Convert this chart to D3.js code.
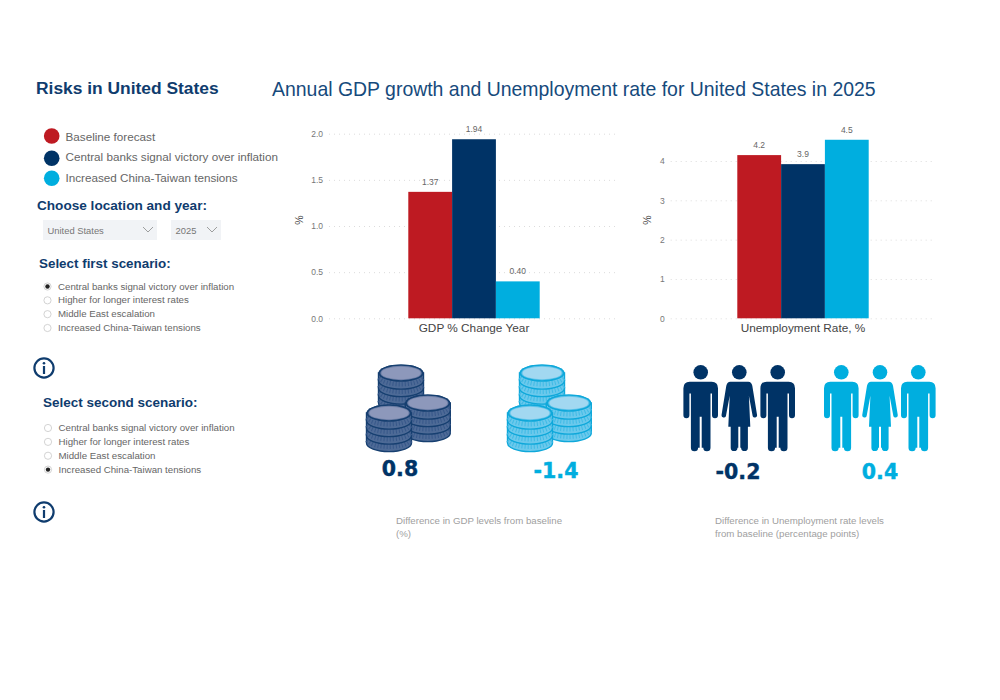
<!DOCTYPE html>
<html>
<head>
<meta charset="utf-8">
<script src="https://d3js.org/d3.v7.min.js"></script>
<style>
  html, body { margin: 0; padding: 0; background: #fff; }
  svg { display: block; font-family: "Liberation Sans", Arial, sans-serif; }
</style>
</head>
<body>
<div id="viz"></div>
<script>
// chart data
const scenarios = ["Baseline forecast", "Central banks signal victory over inflation", "Increased China-Taiwan tensions"];
const scenarioColors = ["#be1a22", "#003366", "#00aedf"];
const gdpValues = [1.37, 1.94, 0.40];
const unempValues = [4.15, 3.92, 4.54];
const gdpTicks = [0, 0.5, 1, 1.5, 2];
const unempTicks = [0, 1, 2, 3, 4];
const radioOptions = ["Central banks signal victory over inflation", "Higher for longer interest rates", "Middle East escalation", "Increased China-Taiwan tensions"];
const firstSelected = 0;
const secondSelected = 3;
const gdpDiffs = ["0.8", "-1.4"];
const unempDiffs = ["-0.2", "0.4"];

const navy = "#0f3c6e";

const svg = d3.select("#viz").append("svg")
  .attr("width", 1000)
  .attr("height", 700);

function label(x, y, str, size, color, weight, anchor) {
  return svg.append("text")
    .attr("x", x)
    .attr("y", y)
    .attr("font-size", size)
    .attr("fill", color)
    .attr("font-weight", weight || "normal")
    .attr("text-anchor", anchor || "start")
    .text(str);
}

// titles
label(36, 94, "Risks in United States", 17.4, navy, "bold");
label(272, 96, "Annual GDP growth and Unemployment rate for United States in 2025", 19.45, "#164a7c");

// legend
const legendY = d3.scaleOrdinal().domain(scenarios).range([136, 158.3, 178.3]);
const legendTextY = d3.scaleOrdinal().domain(scenarios).range([141, 161, 181.5]);
const legend = svg.append("g").selectAll("g").data(scenarios).join("g");
legend.append("circle")
  .attr("cx", 51.7)
  .attr("cy", d => legendY(d))
  .attr("r", 7.8)
  .attr("fill", (d, i) => scenarioColors[i]);
legend.append("text")
  .attr("x", 65.5)
  .attr("y", d => legendTextY(d))
  .attr("font-size", 11.7)
  .attr("fill", "#666")
  .text(d => d);

// dropdowns
label(37, 210, "Choose location and year:", 13.6, navy, "bold");
function dropdown(x, w, str) {
  svg.append("rect").attr("x", x).attr("y", 220).attr("width", w).attr("height", 20).attr("fill", "#f1f3f6");
  label(x + 4.5, 234, str, 9.4, "#777");
  const cx = x + w - 9;
  svg.append("path")
    .attr("d", `M${cx - 5},${227} L${cx},${232} L${cx + 5},${227}`)
    .attr("fill", "none")
    .attr("stroke", "#888")
    .attr("stroke-width", 0.8);
}
dropdown(43, 114, "United States");
dropdown(171, 50, "2025");

// radio lists
function radioList(cx, ys, selected) {
  const y = d3.scalePoint().domain(radioOptions).range(ys);
  const g = svg.append("g").selectAll("g").data(radioOptions).join("g");
  g.append("circle")
    .attr("cx", cx)
    .attr("cy", d => y(d))
    .attr("r", 3.6)
    .attr("fill", "#fff")
    .attr("stroke", "#c8c8c8")
    .attr("stroke-width", 0.8);
  g.filter((d, i) => i === selected).append("circle")
    .attr("cx", cx)
    .attr("cy", d => y(d))
    .attr("r", 2.2)
    .attr("fill", "#222");
  g.append("text")
    .attr("x", cx + 10.5)
    .attr("y", d => y(d) + 3)
    .attr("font-size", 9.7)
    .attr("fill", "#666")
    .text(d => d);
}
label(39, 268, "Select first scenario:", 13.4, navy, "bold");
radioList(47.5, [286.5, 328], firstSelected);
label(43, 407, "Select second scenario:", 13.5, navy, "bold");
radioList(48, [428, 469.6], secondSelected);

// info icons
function infoIcon(cx, cy) {
  const g = svg.append("g").attr("transform", `translate(${cx},${cy})`);
  g.append("circle").attr("r", 9.6).attr("fill", "none").attr("stroke", navy).attr("stroke-width", 2.2);
  g.append("circle").attr("cy", -4.8).attr("r", 1.3).attr("fill", navy);
  g.append("rect").attr("x", -1.1).attr("y", -2).attr("width", 2.2).attr("height", 8).attr("fill", navy);
}
infoIcon(44, 368);
infoIcon(44, 512);

// bar charts
function barChart(opts) {
  const x = d3.scaleBand().domain(scenarios).range(opts.barRange);
  const y = d3.scaleLinear().domain(opts.domain).range([318.3, opts.top]);

  const axis = svg.append("g")
    .attr("transform", `translate(${opts.gridRange[0]},0)`)
    .call(d3.axisLeft(y)
      .tickValues(opts.ticks)
      .tickFormat(d3.format(opts.tickFormat))
      .tickSize(-(opts.gridRange[1] - opts.gridRange[0]))
      .tickPadding(6));
  axis.select(".domain").remove();
  axis.selectAll(".tick line")
    .attr("stroke", "#dcdcdc")
    .attr("stroke-dasharray", "1,4");
  axis.selectAll(".tick text")
    .attr("font-family", "inherit")
    .attr("font-size", 8.5)
    .attr("fill", "#777");

  svg.append("g").selectAll("rect").data(opts.values).join("rect")
    .attr("x", (d, i) => x(scenarios[i]))
    .attr("y", d => y(d))
    .attr("width", x.bandwidth())
    .attr("height", d => y(0) - y(d))
    .attr("fill", (d, i) => scenarioColors[i]);

  svg.append("g").selectAll("text").data(opts.values).join("text")
    .attr("x", (d, i) => x(scenarios[i]) + x.bandwidth() / 2)
    .attr("y", d => y(d) - 7)
    .attr("text-anchor", "middle")
    .attr("font-size", 8.5)
    .attr("fill", "#666")
    .text(d => d3.format(opts.valueFormat)(d));

  label(opts.labelX, 332, opts.title, 11.8, "#444", "normal", "middle");
  svg.append("text")
    .attr("transform", `translate(${opts.unitX},220) rotate(-90)`)
    .attr("text-anchor", "middle")
    .attr("font-size", 10.5)
    .attr("fill", "#444")
    .text("%");
}

barChart({
  values: gdpValues, domain: [0, 2], top: 133.7, ticks: gdpTicks,
  tickFormat: ".1f", valueFormat: ".2f",
  barRange: [408.3, 539.7], gridRange: [329, 617],
  title: "GDP % Change Year", labelX: 474, unitX: 303
});
barChart({
  values: unempValues, domain: [0, 4], top: 161, ticks: unempTicks,
  tickFormat: "d", valueFormat: ".1f",
  barRange: [737.3, 868.7], gridRange: [670.7, 935],
  title: "Unemployment Rate, %", labelX: 803, unitX: 651
});

// coin stack icons
function coinStack(parent, cx, cy, c) {
  const rx = 22.5, ry = 8.6, h = 7.5;
  for (let layer = 3; layer >= 0; layer--) {
    const top = cy + layer * h;
    const g = parent.append("g");
    g.append("path")
      .attr("d", `M${cx - rx},${top} V${top + h} A${rx},${ry} 0 0 0 ${cx + rx},${top + h} V${top} Z`)
      .attr("fill", c.side)
      .attr("stroke", c.line)
      .attr("stroke-width", 1.4);
    // coin edge ridges
    g.append("path")
      .attr("d", `M${cx - rx + 0.7},${top + h / 2 + 1} A${rx},${ry} 0 0 0 ${cx + rx - 0.7},${top + h / 2 + 1}`)
      .attr("fill", "none")
      .attr("stroke", c.ridge)
      .attr("stroke-width", 4.5)
      .attr("stroke-dasharray", "1,2");
    g.append("ellipse")
      .attr("cx", cx).attr("cy", top)
      .attr("rx", rx).attr("ry", ry)
      .attr("fill", c.line);
  }
  parent.append("ellipse")
    .attr("cx", cx).attr("cy", cy)
    .attr("rx", rx).attr("ry", ry)
    .attr("fill", c.line);
  parent.append("ellipse")
    .attr("cx", cx).attr("cy", cy)
    .attr("rx", rx - 1.8).attr("ry", ry - 1.4)
    .attr("fill", c.rim);
  parent.append("ellipse")
    .attr("cx", cx).attr("cy", cy)
    .attr("rx", rx - 3).attr("ry", ry - 2.4)
    .attr("fill", c.top);
}
function coins(dx, c) {
  const g = svg.append("g").attr("transform", `translate(${dx},0)`);
  coinStack(g, 401, 373, c);
  coinStack(g, 427.8, 403, c);
  coinStack(g, 389, 413, c);
}
coins(0, { line: "#163f70", side: "#4d6a96", ridge: "#38588a", rim: "#6f80a8", top: "#8d98bb" });
coins(141, { line: "#0fa8da", side: "#6bc9ec", ridge: "#40bbe6", rim: "#60c4ea", top: "#a2d8f1" });

// people icons
const manPath = "M-11,0 H11 Q17.3,0 17.3,6.5 V33.5 A3,3 0 0 1 11.3,33.5 V11.7 H9.8 V66 A3.6,3.6 0 0 1 2.6,66 H1 V35 H-1 V66 H-2.6 A3.6,3.6 0 0 1 -9.8,66 V11.7 H-11.3 V33.5 A3,3 0 0 1 -17.3,33.5 V6.5 Q-17.3,0 -11,0 Z";
const womanPath = "M-9,0 H9 Q12,0 13,4 L17.8,33.5 A2.3,2.3 0 0 1 13.4,34.5 L9.6,14 L11,45 H8.6 V66 A3.4,3.4 0 0 1 1.8,66 H1 V45 H-1 V66 H-1.8 A3.4,3.4 0 0 1 -8.6,66 V45 H-11 L-9.6,14 L-13.4,34.5 A2.3,2.3 0 0 1 -17.8,33.5 L-13,4 Q-12,0 -9,0 Z";
function person(cx, path, color) {
  const g = svg.append("g").attr("transform", `translate(${cx},381.7)`);
  g.append("circle").attr("cy", -9.4).attr("r", 7.3).attr("fill", color);
  g.append("path").attr("d", path).attr("fill", color);
}
[[700.7, manPath], [739.3, womanPath], [777.7, manPath]].forEach(d => person(d[0], d[1], "#003366"));
[[841.3, manPath], [880, womanPath], [918.3, manPath]].forEach(d => person(d[0], d[1], "#00aedf"));

// difference numbers
function bigNumber(x, y, str, color) {
  label(x, y, str, 20.5, color, "bold", "middle")
    .attr("font-family", "DejaVu Sans")
    .attr("stroke", color)
    .attr("stroke-width", 0.4);
}
bigNumber(400, 476, gdpDiffs[0], "#003366");
bigNumber(556, 478, gdpDiffs[1], "#00aedf");
bigNumber(738, 478.5, unempDiffs[0], "#003366");
bigNumber(880, 478.5, unempDiffs[1], "#00aedf");

// captions
label(396, 524, "Difference in GDP levels from baseline", 9.7, "#a0a0a0");
label(396, 537, "(%)", 9.7, "#a0a0a0");
label(715, 524, "Difference in Unemployment rate levels", 9.7, "#a0a0a0");
label(715, 537, "from baseline (percentage points)", 9.7, "#a0a0a0");
</script>
</body>
</html>
